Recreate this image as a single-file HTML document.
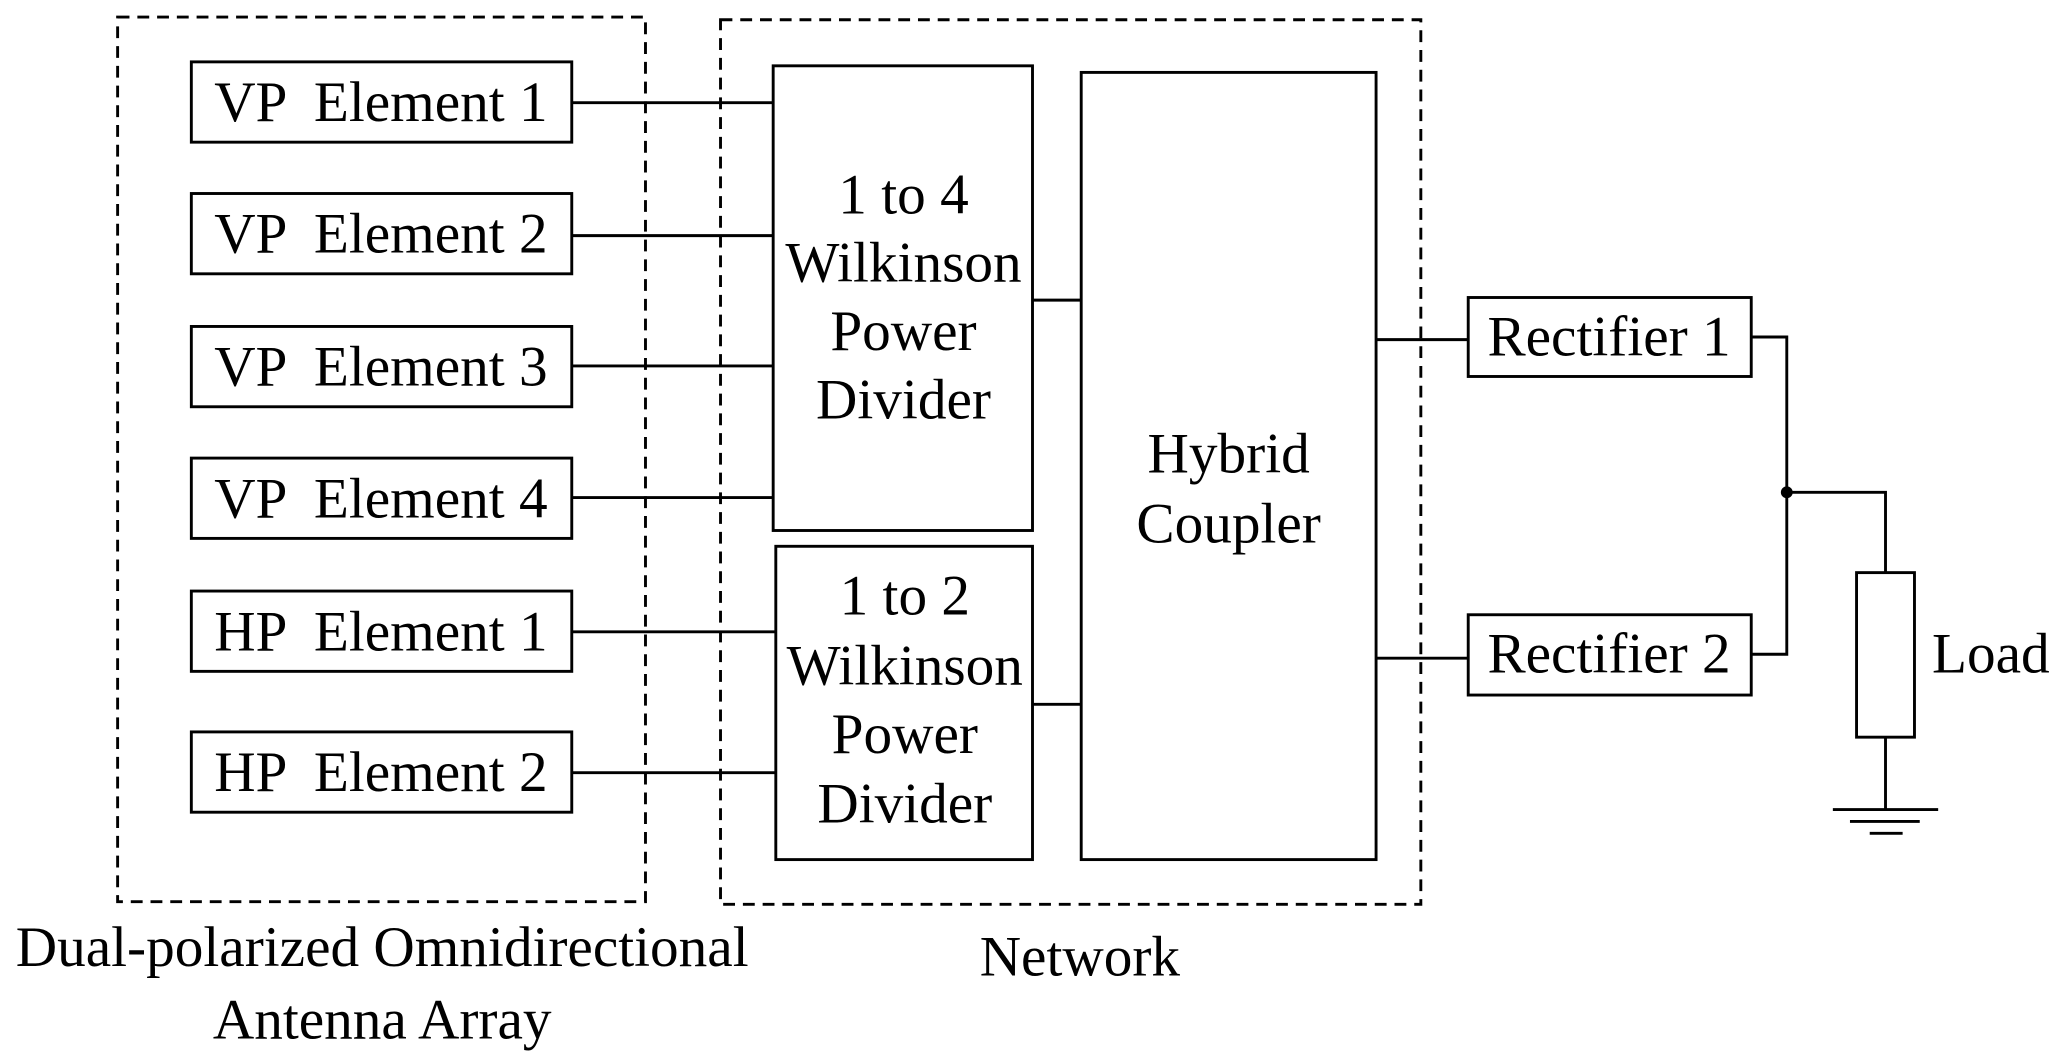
<!DOCTYPE html>
<html><head><meta charset="utf-8"><style>
html,body{margin:0;padding:0;background:#fff;}
svg{display:block;}
text{font-family:"Liberation Serif",serif;font-size:43.5px;fill:#000;}
</style></head><body>
<svg width="2065" height="1061" viewBox="0 0 1568 806" xmlns="http://www.w3.org/2000/svg">
<g fill="none" stroke="#000" stroke-width="2.2">
<rect x="89" y="13" width="401" height="672" stroke-dasharray="9,6"/>
<rect x="547" y="15" width="532" height="672" stroke-dasharray="9,6"/>
<rect x="145" y="47" width="289" height="61"/>
<rect x="145" y="147" width="289" height="61"/>
<rect x="145" y="248" width="289" height="61"/>
<rect x="145" y="348" width="289" height="61"/>
<rect x="145" y="449" width="289" height="61"/>
<rect x="145" y="556" width="289" height="61"/>
<rect x="587" y="50" width="197" height="353"/>
<rect x="589" y="415" width="195" height="238"/>
<rect x="821" y="55" width="224" height="598"/>
<rect x="1115" y="226" width="215" height="60"/>
<rect x="1115" y="467" width="215" height="61"/>
<rect x="1410" y="435" width="44" height="125"/>
<path d="M434 78H587M434 179H587M434 278H587M434 378H587M434 480H589M434 587H589M784 228H821M784 535H821M1045 258H1115M1045 500H1115M1330 256H1357V497H1330M1357 374H1432V435M1432 560V615M1392 615H1472M1405 624H1458M1420 633H1445"/>
</g>
<circle cx="1357" cy="374" r="4.5" fill="#000"/>
<g text-anchor="middle">
<text x="289" y="92" xml:space="preserve">VP  Element 1</text>
<text x="289" y="192" xml:space="preserve">VP  Element 2</text>
<text x="289" y="293" xml:space="preserve">VP  Element 3</text>
<text x="289" y="393" xml:space="preserve">VP  Element 4</text>
<text x="289" y="494" xml:space="preserve">HP  Element 1</text>
<text x="289" y="601" xml:space="preserve">HP  Element 2</text>
<text x="686" y="162">1 to 4</text>
<text x="686" y="214">Wilkinson</text>
<text x="686" y="266">Power</text>
<text x="686" y="318">Divider</text>
<text x="687" y="467">1 to 2</text>
<text x="687" y="520">Wilkinson</text>
<text x="687" y="572">Power</text>
<text x="687" y="625">Divider</text>
<text x="933" y="359">Hybrid</text>
<text x="933" y="412">Coupler</text>
<text x="1222" y="270">Rectifier 1</text>
<text x="1222" y="511">Rectifier 2</text>
<text x="1512" y="511">Load</text>
<text x="290" y="734">Dual-polarized Omnidirectional</text>
<text x="290" y="789">Antenna Array</text>
<text x="820" y="741">Network</text>
</g>
</svg>
</body></html>
